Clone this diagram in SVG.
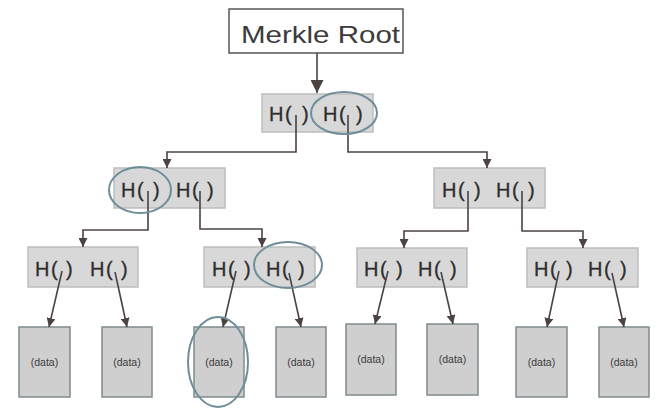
<svg xmlns="http://www.w3.org/2000/svg" width="662" height="410" viewBox="0 0 662 410">
<defs>
<style>
.hbox{fill:#d8d8d8;stroke:#bdbdbd;stroke-width:1.5}
.dbox{fill:#cfcfcf;stroke:#7f8c8e;stroke-width:1.5}
.ht{font-family:"Liberation Sans",Arial,sans-serif;font-size:20px;letter-spacing:1.5px;fill:#2e2e2e;stroke:#2e2e2e;stroke-width:0.3}
.dt{font-family:"Liberation Sans",Arial,sans-serif;font-size:10.5px;fill:#3a3a3a;text-anchor:middle}
.conn{fill:none;stroke:#4d4242;stroke-width:1.6}
.ring{fill:none;stroke:#6f8e99;stroke-width:2}
</style>
<marker id="ah" viewBox="0 0 10 10" refX="10" refY="5" markerWidth="9" markerHeight="9" markerUnits="userSpaceOnUse" orient="auto">
<path d="M0,0 L10,5 L0,10 z" fill="#4d4242"/>
</marker>
<marker id="ahb" viewBox="0 0 10 10" refX="10" refY="5" markerWidth="13" markerHeight="13" markerUnits="userSpaceOnUse" orient="auto">
<path d="M0,0 L10,5 L0,10 z" fill="#4d4242"/>
</marker>
</defs>
<rect width="662" height="410" fill="#ffffff"/>

<g id="merkle-root">
<rect x="229" y="9" width="174" height="44" fill="#ffffff" stroke="#555" stroke-width="1.5"/>
<text x="241" y="43" font-family="Liberation Sans, Arial, sans-serif" font-size="24" fill="#3c3c3c" textLength="159" lengthAdjust="spacingAndGlyphs">Merkle Root</text>
</g>

<g id="root">
<rect class="hbox" x="262" y="94" width="111" height="38"/>
<text class="ht" x="269" y="121">H( <tspan x="302">)</tspan></text>
<text class="ht" x="323" y="121">H( <tspan x="356">)</tspan></text>
</g>

<g id="l2a">
<rect class="hbox" x="114" y="168" width="111" height="40"/>
<text class="ht" x="121" y="197">H( <tspan x="153">)</tspan></text>
<text class="ht" x="176" y="197">H( <tspan x="207">)</tspan></text>
</g>

<g id="l2b">
<rect class="hbox" x="434" y="168" width="111" height="40"/>
<text class="ht" x="442" y="197">H( <tspan x="474">)</tspan></text>
<text class="ht" x="496" y="197">H( <tspan x="528">)</tspan></text>
</g>

<g id="l3a">
<rect class="hbox" x="28" y="247" width="110" height="40"/>
<text class="ht" x="35" y="276">H( <tspan x="66">)</tspan></text>
<text class="ht" x="90" y="276">H( <tspan x="121">)</tspan></text>
</g>
<g id="l3b">
<rect class="hbox" x="204" y="247" width="111" height="40"/>
<text class="ht" x="212" y="276">H( <tspan x="244">)</tspan></text>
<text class="ht" x="266" y="276">H( <tspan x="298">)</tspan></text>
</g>
<g id="l3c">
<rect class="hbox" x="357" y="248" width="110" height="39"/>
<text class="ht" x="364" y="276">H( <tspan x="396">)</tspan></text>
<text class="ht" x="418" y="276">H( <tspan x="450">)</tspan></text>
</g>
<g id="l3d">
<rect class="hbox" x="527" y="248" width="111" height="39"/>
<text class="ht" x="534" y="276">H( <tspan x="566">)</tspan></text>
<text class="ht" x="588" y="276">H( <tspan x="620">)</tspan></text>
</g>

<g id="d1"><rect class="dbox" x="19" y="327" width="51" height="70"/><text class="dt" x="44.5" y="366">(data)</text></g>
<g id="d2"><rect class="dbox" x="102" y="327" width="50" height="70"/><text class="dt" x="127" y="366">(data)</text></g>
<g id="d3"><rect class="dbox" x="194" y="327" width="50" height="70"/><text class="dt" x="219" y="366">(data)</text></g>
<g id="d4"><rect class="dbox" x="276" y="327" width="50" height="70"/><text class="dt" x="301" y="366">(data)</text></g>
<g id="d5"><rect class="dbox" x="346" y="324" width="50" height="71"/><text class="dt" x="371" y="363">(data)</text></g>
<g id="d6"><rect class="dbox" x="427" y="324" width="51" height="71"/><text class="dt" x="452.5" y="363">(data)</text></g>
<g id="d7"><rect class="dbox" x="516" y="327" width="51" height="70"/><text class="dt" x="541.5" y="366">(data)</text></g>
<g id="d8"><rect class="dbox" x="599" y="327" width="50" height="70"/><text class="dt" x="624" y="366">(data)</text></g>

<g id="connectors">
<path class="conn" d="M317,53 V93" stroke-width="2.2" marker-end="url(#ahb)"/>
<path class="conn" d="M296,115 V152 H167 V168" marker-end="url(#ah)"/>
<path class="conn" d="M348,115 V152 H487 V168" marker-end="url(#ah)"/>
<path class="conn" d="M148,191 V230 H83 V247" marker-end="url(#ah)"/>
<path class="conn" d="M200,191 V229 H262 V247" marker-end="url(#ah)"/>
<path class="conn" d="M468,191 V231 H404 V248" marker-end="url(#ah)"/>
<path class="conn" d="M522,191 V231 H583 V248" marker-end="url(#ah)"/>
<path class="conn" d="M62,271 L49,327" marker-end="url(#ah)"/>
<path class="conn" d="M115,272 L127,327" marker-end="url(#ah)"/>
<path class="conn" d="M236,271 L223,327" marker-end="url(#ah)"/>
<path class="conn" d="M289,273 L301,327" marker-end="url(#ah)"/>
<path class="conn" d="M388,271 L375,324" marker-end="url(#ah)"/>
<path class="conn" d="M441,272 L453,324" marker-end="url(#ah)"/>
<path class="conn" d="M559,271 L547,327" marker-end="url(#ah)"/>
<path class="conn" d="M612,273 L624,327" marker-end="url(#ah)"/>
</g>

<g id="highlights">
<ellipse class="ring" cx="344" cy="113" rx="33" ry="21"/>
<ellipse class="ring" cx="140" cy="190" rx="31" ry="23"/>
<ellipse class="ring" cx="288" cy="265" rx="34" ry="23"/>
<ellipse class="ring" cx="218" cy="362" rx="30" ry="45"/>
</g>
</svg>
